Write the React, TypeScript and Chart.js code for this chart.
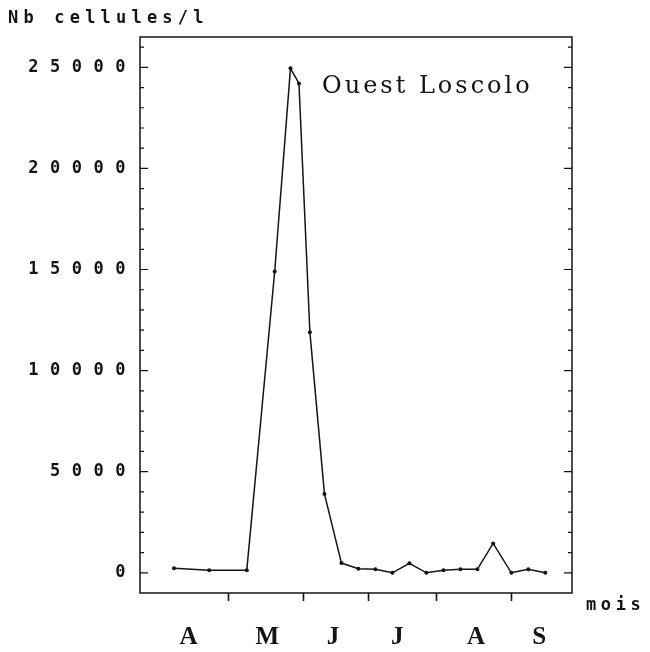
import React, { useEffect, useRef } from 'react';
import { Chart, registerables } from 'chart.js';

Chart.register(...registerables);

// ---- data ----
const sampleDays = [14, 28.5, 44, 55.5, 62, 65.5, 70, 76, 83, 90, 97, 104, 111, 118, 125, 132, 139, 145.5, 153, 160, 167];
const cellsPerLitre = [220, 120, 120, 14900, 24950, 24200, 11900, 3900, 480, 200, 170, 0, 470, 0, 120, 170, 170, 1450, 0, 170, 0];

const monthBoundaries = [36.5, 67.5, 94, 122, 153];
const monthCenters = [20, 52.5, 79.5, 106, 138.5, 164.5];
const monthLetters = ['A', 'M', 'J', 'J', 'A', 'S'];

const yLabelValues = [0, 5000, 10000, 15000, 20000, 25000];
const yMinorStep = 1000;
const yMin = -1000;
const yMax = 26500;
const xMin = 0;
const xMax = 178;

const yTitle = 'Nb cellules/l';
const xTitle = 'mois';
const stationName = 'Ouest Loscolo';

const INK = '#141414';
const MONO = '"DejaVu Sans Mono", monospace';

const yTickValues: number[] = [];
for (let v = 0; v <= yMax; v += yMinorStep) yTickValues.push(v);

const xTickValues = [...monthBoundaries, ...monthCenters].sort((a, b) => a - b);

const framePlugin = {
  id: 'frame',
  beforeDraw(chart: any) {
    // wide spacing for the y tick labels (drawn before the datasets)
    chart.ctx.letterSpacing = '11.5px';
  },
  afterDatasetsDraw(chart: any) {
    chart.ctx.letterSpacing = '0px';
  },
  afterDraw(chart: any) {
    const { ctx, chartArea: a } = chart;
    const y = chart.scales.y;
    ctx.save();
    ctx.letterSpacing = '0px';
    ctx.strokeStyle = INK;
    ctx.lineWidth = 1.5;
    ctx.strokeRect(a.left, a.top, a.right - a.left, a.bottom - a.top);
    ctx.lineWidth = 1.2;
    y.ticks.forEach((t: any) => {
      const py = y.getPixelForValue(t.value);
      const len = yLabelValues.includes(t.value) ? 8 : 4;
      ctx.beginPath();
      ctx.moveTo(a.left, py);
      ctx.lineTo(a.left + len, py);
      ctx.moveTo(a.right, py);
      ctx.lineTo(a.right - len, py);
      ctx.stroke();
    });
    ctx.fillStyle = INK;
    ctx.textBaseline = 'middle';
    ctx.textAlign = 'left';
    ctx.font = `bold 17px ${MONO}`;
    ctx.letterSpacing = '5.2px';
    ctx.fillText(yTitle, 8, 19);
    ctx.letterSpacing = '4.6px';
    ctx.fillText(xTitle, a.right + 14, 606);
    ctx.font = '24px "DejaVu Serif"';
    ctx.letterSpacing = '3px';
    ctx.fillText(stationName, 322, 87);
    ctx.restore();
  },
};

export default function App() {
  const ref = useRef<HTMLCanvasElement | null>(null);
  useEffect(() => {
    if (!ref.current) return;
    const chart = new Chart(ref.current, {
      type: 'line',
      data: {
        datasets: [
          {
            data: sampleDays.map((d, i) => ({ x: d, y: cellsPerLitre[i] })),
            borderColor: INK,
            borderWidth: 1.5,
            pointRadius: 2,
            pointBackgroundColor: INK,
            pointBorderWidth: 0,
            tension: 0,
            fill: false,
          },
        ],
      },
      options: {
        animation: false,
        responsive: false,
        maintainAspectRatio: false,
        layout: { padding: { top: 37, left: 9, right: 78, bottom: 0 } },
        plugins: {
          legend: { display: false },
          tooltip: { enabled: false },
          title: { display: false },
        },
        scales: {
          x: {
            type: 'linear',
            min: xMin,
            max: xMax,
            position: 'bottom',
            afterBuildTicks: (axis: any) => {
              axis.ticks = xTickValues.map((v) => ({ value: v }));
            },
            afterFit: (axis: any) => {
              axis.height = 59;
            },
            grid: {
              display: true,
              drawOnChartArea: false,
              drawTicks: true,
              tickLength: 8,
              tickWidth: 1.6,
              tickColor: (c: any) =>
                c.tick && monthBoundaries.includes(c.tick.value) ? INK : 'rgba(0,0,0,0)',
            },
            border: { display: false },
            ticks: {
              z: 1,
              autoSkip: false,
              maxRotation: 0,
              padding: 24,
              color: INK,
              font: { family: '"Liberation Serif", serif', size: 25, weight: 'bold', lineHeight: 1 },
              callback: (v: any) => {
                const i = monthCenters.indexOf(Number(v));
                return i >= 0 ? monthLetters[i] : '';
              },
            },
          },
          y: {
            type: 'linear',
            min: yMin,
            max: yMax,
            afterBuildTicks: (axis: any) => {
              axis.ticks = yTickValues.map((v) => ({ value: v }));
            },
            afterFit: (axis: any) => {
              axis.width = 131;
            },
            grid: { display: false, drawTicks: false },
            border: { display: false },
            ticks: {
              autoSkip: false,
              padding: 3,
              color: INK,
              font: { family: MONO, size: 17, weight: 'bold', lineHeight: 1 },
              callback: (v: any) => (yLabelValues.includes(Number(v)) ? String(v) : ''),
            },
          },
        },
      },
      plugins: [framePlugin],
    } as any);
    return () => chart.destroy();
  }, []);

  return (
    <div style={{ position: 'fixed', left: 0, top: 0, width: 650, height: 652, background: '#fff' }}>
      <canvas ref={ref} width={650} height={652} style={{ width: 650, height: 652, display: 'block' }} />
    </div>
  );
}
